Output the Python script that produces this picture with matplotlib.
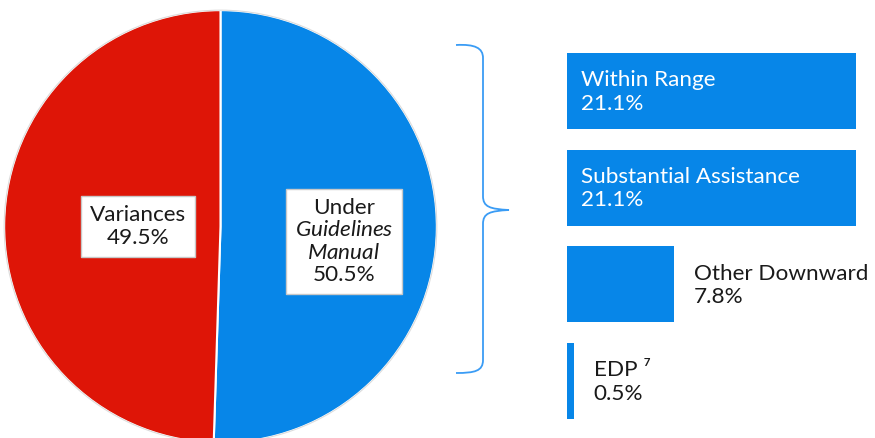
import matplotlib
matplotlib.use('Agg')
import matplotlib.pyplot as plt
from matplotlib.path import Path
from matplotlib.patches import PathPatch, Circle

plt.rcParams['font.family'] = ['Lato', 'DejaVu Sans']
plt.rcParams['mathtext.fontset'] = 'custom'
plt.rcParams['mathtext.rm'] = 'Lato'
plt.rcParams['mathtext.it'] = 'Lato:italic'

# data
pie_labels = ['Under Guidelines Manual', 'Variances']
pie_values = [50.5, 49.5]
pie_colors = ['#0786E8', '#DE1507']

bar_labels = ['Within Range', 'Substantial Assistance', 'Other Downward', 'EDP \u2077']
bar_values = [21.1, 21.1, 7.8, 0.5]
bar_color = '#0786E8'

FS = 16.2
W, H = 875, 438
fig = plt.figure(figsize=(W / 100, H / 100), dpi=100)

# pie, centre at about (220, 226) px, radius ~216 px
ax_pie = fig.add_axes([2 / W, (H - 445) / H, 437 / W, 437 / H])
ax_pie.pie(pie_values, colors=pie_colors, startangle=90, counterclock=False,
           wedgeprops=dict(edgecolor='white', linewidth=1.5))
ax_pie.add_patch(Circle((0, 0), 1.0, fill=False, edgecolor='#dcdcdc', lw=0.8))
ax_pie.set_xlim(-1.01, 1.01)
ax_pie.set_ylim(-1.01, 1.01)
ax_pie.set_aspect('equal')
ax_pie.axis('off')

box = dict(boxstyle='square,pad=0.4', fc='white', ec='#c8c8c8', lw=1)
ax_pie.text(-0.38, 0.0, f'{pie_labels[1]}\n{pie_values[1]}%', ha='center', va='center',
            multialignment='center', fontsize=FS, color='#1a1a1a', bbox=box)
w = pie_labels[0].split()
ax_pie.text(0.57, -0.07, f'{w[0]}\n$\\mathit{{{w[1]}}}$\n$\\mathit{{{w[2]}}}$\n{pie_values[0]}%',
            ha='center', va='center', multialignment='center', fontsize=FS,
            color='#1a1a1a', bbox=box, linespacing=1.15)

# bars
ax_bar = fig.add_axes([567 / W, (H - 429.4) / H, 308 / W, 386.8 / H])
ypos = list(range(len(bar_values)))
ax_bar.barh(ypos, bar_values, height=76 / 96.7, color=bar_color)
ax_bar.set_xlim(0, 308 / 289 * 21.1)
ax_bar.set_ylim(3.5, -0.5)
ax_bar.axis('off')
for i, (lab, v) in enumerate(zip(bar_labels, bar_values)):
    if v > 15:
        ax_bar.annotate(f'{lab}\n{v}%', (0, i), xytext=(14, -1), textcoords='offset pixels',
                        ha='left', va='center', fontsize=FS, color='white',
                        annotation_clip=False)
    else:
        ax_bar.annotate(f'{lab}\n{v}%', (v, i), xytext=(20, -1), textcoords='offset pixels',
                        ha='left', va='center', fontsize=FS, color='#1a1a1a',
                        annotation_clip=False)

# brace
ax_ov = fig.add_axes([0, 0, 1, 1])
ax_ov.set_xlim(0, W)
ax_ov.set_ylim(H, 0)
ax_ov.axis('off')
verts = [(456, 45), (475, 44), (483, 48), (483, 58),
         (483, 196),
         (483, 207), (490, 209), (509, 210),
         (490, 211), (483, 213), (483, 224),
         (483, 360),
         (483, 371), (475, 373), (456, 373)]
codes = [Path.MOVETO, Path.CURVE4, Path.CURVE4, Path.CURVE4,
         Path.LINETO,
         Path.CURVE4, Path.CURVE4, Path.CURVE4,
         Path.CURVE4, Path.CURVE4, Path.CURVE4,
         Path.LINETO,
         Path.CURVE4, Path.CURVE4, Path.CURVE4]
ax_ov.add_patch(PathPatch(Path(verts, codes), fill=False, edgecolor='#3a9cf5', lw=1.3))

fig.savefig('out.png', dpi=100, facecolor='white')
